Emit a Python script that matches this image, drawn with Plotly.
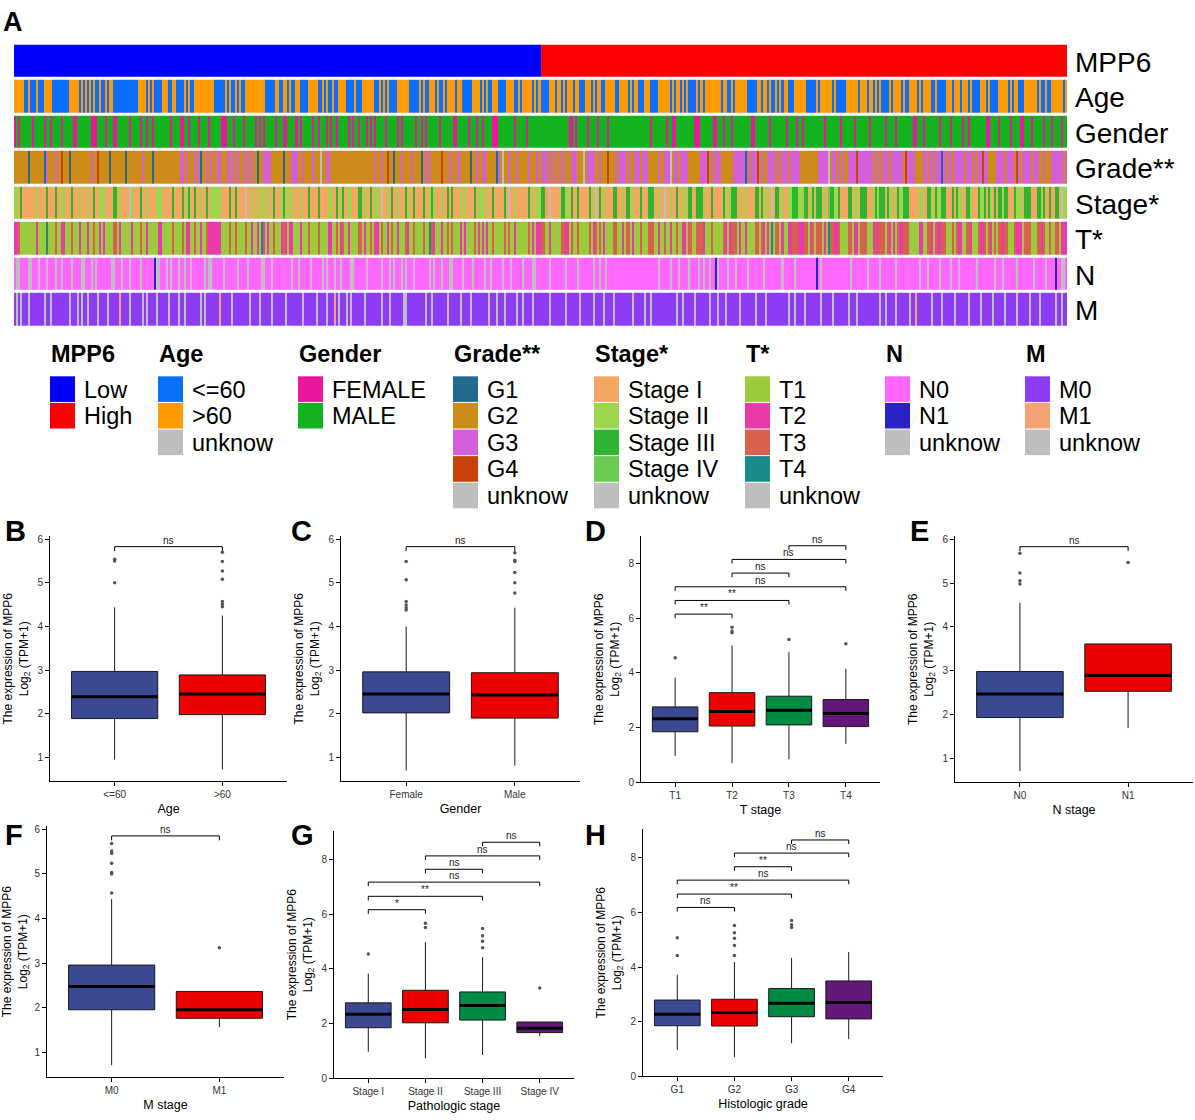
import plotly.graph_objects as go

W, H = 1195, 1120
FONT = "Liberation Sans, Arial, Helvetica, sans-serif"


def fx(px):
    return px / W


def fy(py):
    return 1 - py / H


# ------------------------------------------------------------------
# Heatmap annotation data (one character per sample)
# ------------------------------------------------------------------
n_low, n_high = 260, 260

age_low = """oooooaaoaa aoaaaooooa aaaaaaaooo ooaoaoaoao aaoaaoaooa aaaaaaaaaa aooooaoaoa aaaoooaaoo
aaaaoaoaao oooooooooa aaaaoaoaao aoaaoooooo ooooaaaaao oaaooaoaao oaaaaooooo aaoaoaaoaa ooooaaaaoa
aaooooooaa oaoaoaaaao oooooaaaaa oaoaaoooao aaoaooooao oaaaaaoooo aoaoaaoooa aaaooooaao aoooooaoao"""
age_high = """aaaaoooaoo aoaoooaooa aaoooaoaoo aaoooooaao oooaoaooaa aoooaaaaoo ooooaoaooa oaoaaaaoao
aooooooooa ooaaoaoooo ooaaaaaooa ooaoaaoaoa ooaaaooooo oaaaaaoaoo ooooaoaaaa aooooooaoo oaooaoaoaa
aaoaooooao aaooooaoao oooaaoaaaa oooaoooaoo oaoaaaaooo aoaaaaoooo oaoaooaaao oooooaoaao aaooooooao"""

gender_low = """fmfmmmmmmf mmmmmfmmfm mmmfmmmmmf fmmmmmmmff fmmmmfmmmf fmmmmmmfmm mmfmmfmmfm mmmmmmmfmm
mmffmmfmmm mfmmmmfmmm mmfffmmmfm mmmfmmmmmf mfmfmmmmmf mmmffmmmmf mfmmmmmfmm fmmmfmfmmf mmmmmfmfmm
fmmmfmfmfm mmmfmmmmmf mfmmmmmmfm mfmfmmmmmm fmmmmmmffm mmmmfmmmfm mfmmmmfffm mmmmmmmfmm mmmfmmmmmm"""
gender_high = """mmmmmmmmmm mmmmffmfmm mmmfmmmmfm mmmfmmmmmm mmmmmmmmmm mmmmfmmmmm mmfmmffmmm mmmmmmfffm
mmmmmffmmm fmmmfmmmmm mmmmffmmmm mmmfmmmmmm mfmmmmfmmf mmmmmmmmmm fmmmmmmmfm mmmmmfmmmm mmfmmmmmmm
fmmmmfmmmm mmmmffmmmf mmmmmmmfmm mmfmmmmmfm mfmmmmmmmm ffmmmmfmmm mmfmmmmffm mmfmmmmmfm mmfmmmmfmm"""

grade_low = """2222222122 2222213222 3224222122 2222222232 2422222122 2222212222 2223222212 2222222222
2233232223 2312232322 3322233232 3223232322 1223333222 2221222333 2232222322 2u22332222 2222222222
2222222232 2322422122 2322223222 2123232222 2422232223 2222212232 2332222213 2u22322232 2222322232"""
grade_high = """3332323223 2322233322 2u23333223 2224222323 3323223332 3332222232 2333u23323 3332222223
3342323332 2222233333 3132333423 2233332323 3323333322 2222222333 33u2332323 2233334333 3333232323
3323333332 4333322223 3233233313 2332333332 3332323343 3222233332 3333243233 3323332232 2233333323"""

stage_low = """2213111111 1211113111 3112211131 1121112113 1122211113 3121111u21 1131121111 2221111131
1113123113 1121131222 2211113113 1111u11211 2122121131 1123212211 1211131111 3111122113 1231122111
3312113122 1u11213112 1113211311 1131123211 1211313111 2121111312 2212113111 1131u11211 1111312122"""
stage_high = """3311u11111 3322131131 1111312u13 1211113311 2133121113 1113331121 1u11211311 2213311333
2111311111 3212333121 1211113313 2121u13312 1122333222 3312313331 2143322311 1133122133 3111232333
1321213223 3311111221 1332132233 1113132211 3321113223 1321313323 3111322213 3311133231 1311331u22"""

t_low = """2231111111 1211114111 3112211131 1121112113 1121211113 3121111121 1131121111 1221111131
1113122113 1121132222 2211113113 1111311211 2142121131 1123212211 1211131111 3111122113 1231121111
3312113122 1311213112 1113211311 1131143211 1211313111 2121111312 1212113111 1131311211 1111312122"""
t_high = """3311211111 3322131131 1111312313 1211113311 2133121113 1113331121 1311211311 2213311333
2111311111 3212333121 1211113313 2121413312 1122333222 3312313331 2143322311 1133122133 3111232333
1321213223 3311111221 1332132233 1113132211 3321113223 1321313323 3111322213 3311133231 1311331222"""

n_low_s = """0uu0000uu0 00u000u000 u00u0000u0 000uu000u0 u0000000uu 000u000u00 00u0000001 uu000u0u00
0u00u00u00 0000u0uu00 000u000000 u0000u0000 00uu000u00 0000000u00 u00000u000 00u0u000u0 0u0000uu00
0000u00000 0u000u0u00 0u0u000u00 00000u0u00 0u000uu000 0u0000u000 00u00u0000 0u000u0000 0u0000uu00"""
n_high_s = """0000u00000 00u00000u0 000000u00u 00u0000000 0000000000 00000000u0 0000u000u0 000u0000u0
u00u001u00 00u000u000 00u0000000 u00000000u 00000u0000 00000010u0 0000000000 000u000000 0u00000u00
00000u0000 0000000u00 0u00000u00 00u000u000 00000u0000 0000u000u0 00000u0000 000u00000u 0000100uu0"""

m_low = """0u0u000u00 00000u00u0 0000000u00 0u0u00u000 0u0000u000 0010000u00 000u0u0000 u00000u000
0u00u00000 00u0u00000 0100000u00 000000u000 0u00000u00 0000u00000 00u000000u 0000u00010 u000u0u000
000u000000 0u000u0000 00uu000000 000u00u000 0000u00000 u0000u0000 0000u000u0 00u00000u0 0u0000u000"""
m_high = """0000u00000 00u000000u 000000u000 0u0000u000 00000u0000 0u00u00000 0000000u00 u00000u000
000u000u00 0u000000u0 000000u000 0u00000000 00u00u0000 u0000000u0 0000u00000 00u000u000 0000000u00
u0000u0000 00u0010000 000u0000u0 0000u00000 0u00000u00 000u00000u 00000u0000 0u0000u000 0000u00u00"""

row_labels = ["MPP6", "Age", "Gender", "Grade**", "Stage*", "T*", "N", "M"]

# legend groups: title, labels, colours
leg_titles = ["MPP6", "Age", "Gender", "Grade**", "Stage*", "T*", "N", "M"]
leg_labels = [
    ["Low", "High"],
    ["&lt;=60", "&gt;60", "unknow"],
    ["FEMALE", "MALE"],
    ["G1", "G2", "G3", "G4", "unknow"],
    ["Stage I", "Stage II", "Stage III", "Stage IV", "unknow"],
    ["T1", "T2", "T3", "T4", "unknow"],
    ["N0", "N1", "unknow"],
    ["M0", "M1", "unknow"],
]
GRAY = "#BEBEBE"
leg_colors = [
    ["#0000FF", "#FF0000"],
    ["#0B6EFD", "#FF9A00", GRAY],
    ["#E8179B", "#12B31F"],
    ["#236B8E", "#CD8C17", "#D55FD8", "#C8420A", GRAY],
    ["#F4A762", "#9ED54A", "#2FB42F", "#6ACC50", GRAY],
    ["#9BCB3C", "#E93AAA", "#D7604E", "#1A8B8B", GRAY],
    ["#FF66FF", "#2A22C4", GRAY],
    ["#8D3BF4", "#F4A273", GRAY],
]
# character codes of each row, in the same order as leg_labels
row_codes = [
    ["L", "H"],
    ["a", "o", "u"],
    ["f", "m"],
    ["1", "2", "3", "4", "u"],
    ["1", "2", "3", "4", "u"],
    ["1", "2", "3", "4", "u"],
    ["0", "1", "u"],
    ["0", "1", "u"],
]

# ------------------------------------------------------------------
# Box-plot summary values
# ------------------------------------------------------------------
age_cats = ["&lt;=60", "&gt;60"]
age_q1 = [1.89, 1.98]
age_med = [2.39, 2.45]
age_q3 = [2.97, 2.89]
age_lo = [0.95, 0.72]
age_hi = [4.44, 4.25]
age_out = [[5.0, 5.5, 5.54], [4.45, 4.51, 4.57, 5.08, 5.27, 5.49, 5.7]]
age_sig = [(0, 1, 5.83, "ns")]

gender_cats = ["Female", "Male"]
gender_q1 = [2.02, 1.90]
gender_med = [2.45, 2.43]
gender_q3 = [2.96, 2.94]
gender_lo = [0.70, 0.81]
gender_hi = [4.0, 4.43]
gender_out = [[4.38, 4.43, 4.49, 4.57, 5.07, 5.49], [4.77, 5.0, 5.24, 5.49, 5.52, 5.69]]
gender_sig = [(0, 1, 5.83, "ns")]

tst_cats = ["T1", "T2", "T3", "T4"]
tst_q1 = [1.85, 2.06, 2.10, 2.04]
tst_med = [2.33, 2.59, 2.64, 2.52]
tst_q3 = [2.76, 3.28, 3.15, 3.03]
tst_lo = [0.97, 0.70, 0.85, 1.41]
tst_hi = [3.83, 5.0, 4.76, 4.15]
tst_out = [[4.56], [5.47, 5.53, 5.67], [5.22], [5.07]]
tst_sig = [(0, 1, 6.15, "**"), (0, 2, 6.65, "**"), (0, 3, 7.15, "ns"),
           (1, 2, 7.65, "ns"), (1, 3, 8.15, "ns"), (2, 3, 8.65, "ns")]

nst_cats = ["N0", "N1"]
nst_q1 = [1.93, 2.53]
nst_med = [2.47, 2.89]
nst_q3 = [2.98, 3.61]
nst_lo = [0.71, 1.69]
nst_hi = [4.55, 3.61]
nst_out = [[4.98, 5.05, 5.23, 5.68], [5.47]]
nst_sig = [(0, 1, 5.83, "ns")]

mst_cats = ["M0", "M1"]
mst_q1 = [1.96, 1.77]
mst_med = [2.48, 1.96]
mst_q3 = [2.96, 2.37]
mst_lo = [0.72, 1.57]
mst_hi = [4.44, 2.37]
mst_out = [[4.57, 5.0, 5.03, 5.24, 5.46, 5.51, 5.68], [3.35]]
mst_sig = [(0, 1, 5.85, "ns")]

pst_cats = ["Stage I", "Stage II", "Stage III", "Stage IV"]
pst_q1 = [1.85, 2.03, 2.13, 1.67]
pst_med = [2.34, 2.52, 2.66, 1.83]
pst_q3 = [2.76, 3.22, 3.16, 2.06]
pst_lo = [0.97, 0.73, 0.85, 1.55]
pst_hi = [3.83, 4.98, 4.43, 2.06]
pst_out = [[4.55], [5.52, 5.67], [4.78, 5.02, 5.22, 5.48], [3.3]]
pst_sig = [(0, 1, 6.17, "*"), (0, 2, 6.66, "**"), (0, 3, 7.18, "ns"),
           (1, 2, 7.65, "ns"), (1, 3, 8.14, "ns"), (2, 3, 8.64, "ns")]

grd_cats = ["G1", "G2", "G3", "G4"]
grd_q1 = [1.85, 1.84, 2.18, 2.10]
grd_med = [2.27, 2.33, 2.67, 2.70]
grd_q3 = [2.79, 2.82, 3.21, 3.49]
grd_lo = [0.97, 0.70, 1.21, 1.36]
grd_hi = [3.72, 4.18, 4.33, 4.55]
grd_out = [[4.42, 5.07], [4.42, 4.79, 5.05, 5.25, 5.52], [5.45, 5.55, 5.70], []]
grd_sig = [(0, 1, 6.18, "ns"), (0, 2, 6.67, "**"), (0, 3, 7.18, "ns"),
           (1, 2, 7.67, "**"), (1, 3, 8.17, "ns"), (2, 3, 8.65, "ns")]

box_colors = ["#3B4992", "#EE0000", "#008B45", "#631879"]

# ------------------------------------------------------------------
fig = go.Figure()
annotations = []
shapes = []


def clean(s):
    return "".join(s.split())


low_rows = [clean(s) for s in [age_low, gender_low, grade_low, stage_low, t_low, n_low_s, m_low]]
high_rows = [clean(s) for s in [age_high, gender_high, grade_high, stage_high, t_high, n_high_s, m_high]]
nl = min([n_low] + [len(r) for r in low_rows])
nh = min([n_high] + [len(r) for r in high_rows])
rows = ["L" * nl + "H" * nh] + [lo[:nl] + hi[:nh] for lo, hi in zip(low_rows, high_rows)]

# global colour index
flat_colors = []
code_maps = []
for codes, cols in zip(row_codes, leg_colors):
    mp = {}
    for c, col in zip(codes, cols):
        mp[c] = len(flat_colors)
        flat_colors.append(col)
    code_maps.append(mp)
nc = len(flat_colors)
colorscale = []
for i, col in enumerate(flat_colors):
    colorscale.append([i / nc, col])
    colorscale.append([(i + 1) / nc, col])

z = [[mp[ch] for ch in row] for row, mp in zip(rows, code_maps)]
fig.add_trace(go.Heatmap(z=z, x=list(range(len(rows[0]))), y=list(range(len(rows))),
                         colorscale=colorscale, zmin=-0.5, zmax=nc - 0.5, showscale=False,
                         ygap=3, hoverinfo="skip", xaxis="x", yaxis="y"))

hm_x0, hm_x1, hm_y0, hm_y1 = 14, 1067, 42, 328
layout_axes = {
    "xaxis": dict(domain=[fx(hm_x0), fx(hm_x1)], range=[-0.5, len(rows[0]) - 0.5], visible=False,
                  fixedrange=True),
    "yaxis": dict(domain=[fy(hm_y1), fy(hm_y0)], range=[len(rows) - 0.5, -0.5], visible=False,
                  fixedrange=True),
}
pitch = (hm_y1 - hm_y0) / len(rows)
for i, lab in enumerate(row_labels):
    annotations.append(dict(text=lab, x=fx(1073), y=fy(hm_y0 + pitch * (i + 0.5) + 1), xref="paper",
                            yref="paper", xanchor="left", yanchor="middle", showarrow=False,
                            font=dict(family=FONT, size=28, color="black")))

# ---------------- legend block ----------------
leg_x = [50, 158, 298, 453, 594, 745, 885, 1025]
title_y = 355
entry_y0 = 377
entry_h = 26.8
sq_w = 25
for gx, title, labs, cols in zip(leg_x, leg_titles, leg_labels, leg_colors):
    annotations.append(dict(text="<b>" + title + "</b>", x=fx(gx - 1), y=fy(title_y), xref="paper",
                            yref="paper", xanchor="left", yanchor="middle", showarrow=False,
                            font=dict(family=FONT, size=23.5, color="black")))
    for j, (lab, col) in enumerate(zip(labs, cols)):
        top = entry_y0 + j * entry_h
        shapes.append(dict(type="rect", xref="paper", yref="paper", x0=fx(gx), x1=fx(gx + sq_w),
                           y0=fy(top + entry_h - 1), y1=fy(top), fillcolor=col, line=dict(width=0)))
        annotations.append(dict(text=lab, x=fx(gx + sq_w + 7), y=fy(top + entry_h / 2), xref="paper",
                                yref="paper", xanchor="left", yanchor="middle", showarrow=False,
                                font=dict(family=FONT, size=23.5, color="black")))

# ---------------- box panels ----------------
panels = [
    ("B", age_cats, "Age", age_q1, age_med, age_q3, age_lo, age_hi, age_out, age_sig,
     (50, 287, 538, 785), (0.45, 6.07), [1, 2, 3, 4, 5, 6], (3, 515)),
    ("C", gender_cats, "Gender", gender_q1, gender_med, gender_q3, gender_lo, gender_hi, gender_out,
     gender_sig, (341, 580, 538, 785), (0.45, 6.07), [1, 2, 3, 4, 5, 6], (289, 515)),
    ("D", tst_cats, "T stage", tst_q1, tst_med, tst_q3, tst_lo, tst_hi, tst_out, tst_sig,
     (641, 880, 538, 786), (0, 9.0), [0, 2, 4, 6, 8], (583, 515)),
    ("E", nst_cats, "N stage", nst_q1, nst_med, nst_q3, nst_lo, nst_hi, nst_out, nst_sig,
     (955, 1193, 538, 786), (0.45, 6.07), [1, 2, 3, 4, 5, 6], (908, 515)),
    ("F", mst_cats, "M stage", mst_q1, mst_med, mst_q3, mst_lo, mst_hi, mst_out, mst_sig,
     (47, 284, 830, 1083), (0.45, 6.07), [1, 2, 3, 4, 5, 6], (3, 821)),
    ("G", pst_cats, "Pathologic stage", pst_q1, pst_med, pst_q3, pst_lo, pst_hi, pst_out, pst_sig,
     (334, 574, 835, 1084), (0, 9.05), [0, 2, 4, 6, 8], (289, 821)),
    ("H", grd_cats, "Histologic grade", grd_q1, grd_med, grd_q3, grd_lo, grd_hi, grd_out, grd_sig,
     (643, 883, 833, 1082), (0, 9.05), [0, 2, 4, 6, 8], (583, 821)),
]

annotations.append(dict(text="<b>A</b>", x=fx(1), y=fy(3), xref="paper", yref="paper",
                        xanchor="left", yanchor="top", showarrow=False,
                        font=dict(family=FONT, size=27, color="black")))

for k, (letter, cats, xtitle, q1, med, q3, lo, hi, outs, sigs, dom, yr, ytv, lpos) in enumerate(panels):
    ax = k + 2
    xa, ya = "x%d" % ax, "y%d" % ax
    n = len(cats)
    pos = list(range(n))
    for i in pos:
        fig.add_trace(go.Box(x=[i], q1=[q1[i]], median=[med[i]], q3=[q3[i]], lowerfence=[lo[i]],
                             upperfence=[hi[i]], width=0.8, fillcolor=box_colors[i],
                             line=dict(color="#1a1a1a", width=1), whiskerwidth=0, boxpoints=False,
                             hoverinfo="skip", xaxis=xa, yaxis=ya))
        fig.add_trace(go.Scatter(x=[i - 0.4, i + 0.4], y=[med[i], med[i]], mode="lines",
                                 line=dict(color="black", width=3), hoverinfo="skip",
                                 xaxis=xa, yaxis=ya))
        if outs[i]:
            fig.add_trace(go.Scatter(x=[i] * len(outs[i]), y=outs[i], mode="markers",
                                     marker=dict(size=3.5, color="#555555"), hoverinfo="skip",
                                     xaxis=xa, yaxis=ya))
    tip = 0.1 if n == 2 else 0.15
    for a, b, h, lab in sigs:
        fig.add_trace(go.Scatter(x=[a, a, b, b], y=[h - tip, h, h, h - tip], mode="lines",
                                 line=dict(color="black", width=1), hoverinfo="skip",
                                 xaxis=xa, yaxis=ya))
        annotations.append(dict(text=lab, x=(a + b) / 2, y=h, xref=xa, yref=ya, xanchor="center",
                                yanchor="bottom", showarrow=False, yshift=-1,
                                font=dict(family=FONT, size=10, color="#222222")))
    x0, x1, y0, y1 = dom
    layout_axes["xaxis%d" % ax] = dict(
        domain=[fx(x0), fx(x1)], range=[-0.6, n - 1 + 0.6], anchor=ya, tickvals=pos, ticktext=cats,
        showline=True, linecolor="black", linewidth=1, ticks="outside", ticklen=4, tickcolor="black",
        showgrid=False, zeroline=False, tickfont=dict(family=FONT, size=10, color="#333333"),
        title=dict(text=xtitle, font=dict(family=FONT, size=12.5, color="black"), standoff=4),
        fixedrange=True)
    layout_axes["yaxis%d" % ax] = dict(
        domain=[fy(y1), fy(y0)], range=list(yr), anchor=xa, tickvals=ytv,
        showline=True, linecolor="black", linewidth=1, ticks="outside", ticklen=4, tickcolor="black",
        showgrid=False, zeroline=False, tickfont=dict(family=FONT, size=10, color="#333333"),
        title=dict(text="The expression of MPP6<br>Log<sub>2</sub> (TPM+1)",
                   font=dict(family=FONT, size=12, color="black"), standoff=6),
        fixedrange=True)
    annotations.append(dict(text="<b>%s</b>" % letter, x=fx(lpos[0]), y=fy(lpos[1]), xref="paper",
                            yref="paper", xanchor="left", yanchor="top", showarrow=False,
                            font=dict(family=FONT, size=29, color="black")))

fig.update_layout(width=W, height=H, margin=dict(l=0, r=0, t=0, b=0), showlegend=False,
                  plot_bgcolor="white", paper_bgcolor="white", boxmode="overlay",
                  annotations=annotations, shapes=shapes, **layout_axes)
fig.write_html("out.html", config={"displayModeBar": False},
               post_script="document.body.style.margin='0px';")
